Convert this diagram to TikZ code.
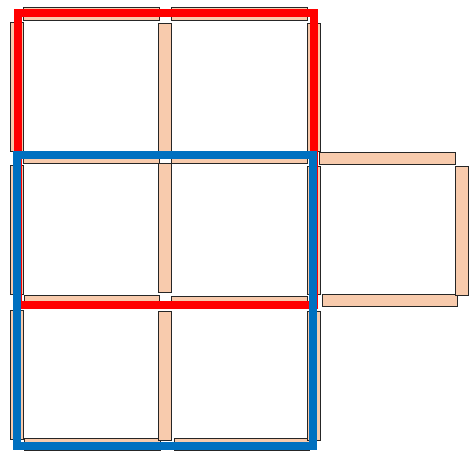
\documentclass[tikz,border=0pt]{standalone}
\definecolor{stickfill}{HTML}{F8CBAD}
\definecolor{bluepath}{HTML}{0070C0}
\definecolor{redpath}{HTML}{FF0000}
\tikzset{
  stick/.style={draw=black!85, fill=stickfill, line width=0.9pt},
  redloop/.style={draw=redpath, line width=8pt, line join=miter},
  blueloop/.style={draw=bluepath, line width=8pt, line join=miter}
}
\begin{document}
\begin{tikzpicture}[x=1pt,y=-1pt]
\useasboundingbox (0,0) rectangle (470,452);
% horizontal sticks
\draw[stick] (23,7.5) rectangle (159,20);
\draw[stick] (171.5,7.5) rectangle (307,20);
\draw[stick] (23,151) rectangle (159,163.5);
\draw[stick] (171,151) rectangle (307.3,163.5);
\draw[stick] (319.3,152.3) rectangle (455.7,164.3);
\draw[stick] (24,295.5) rectangle (159,308);
\draw[stick] (171,296) rectangle (307.7,308.5);
\draw[stick] (322.3,294) rectangle (457.7,306);
\draw[stick] (24,438.7) rectangle (160,450.7);
\draw[stick] (174,438.7) rectangle (309.3,450.7);
% vertical sticks
\draw[stick] (10.7,22.5) rectangle (23.3,151);
\draw[stick] (158.7,23.3) rectangle (171.3,151);
\draw[stick] (307,23.3) rectangle (320,151);
\draw[stick] (10.7,165) rectangle (23.3,294);
\draw[stick] (158.7,163) rectangle (171.3,292.3);
\draw[stick] (307.3,166) rectangle (320,294.3);
\draw[stick] (455.7,166.7) rectangle (468.3,295);
\draw[stick] (10.7,310) rectangle (23.3,439);
\draw[stick] (158.3,311) rectangle (171.7,440);
\draw[stick] (307,311) rectangle (320,440);
% loops
\draw[redloop] (17.5,12.7) rectangle (314,304.5);
\draw[blueloop] (16.5,154.5) rectangle (313.3,446);
\end{tikzpicture}
\end{document}
